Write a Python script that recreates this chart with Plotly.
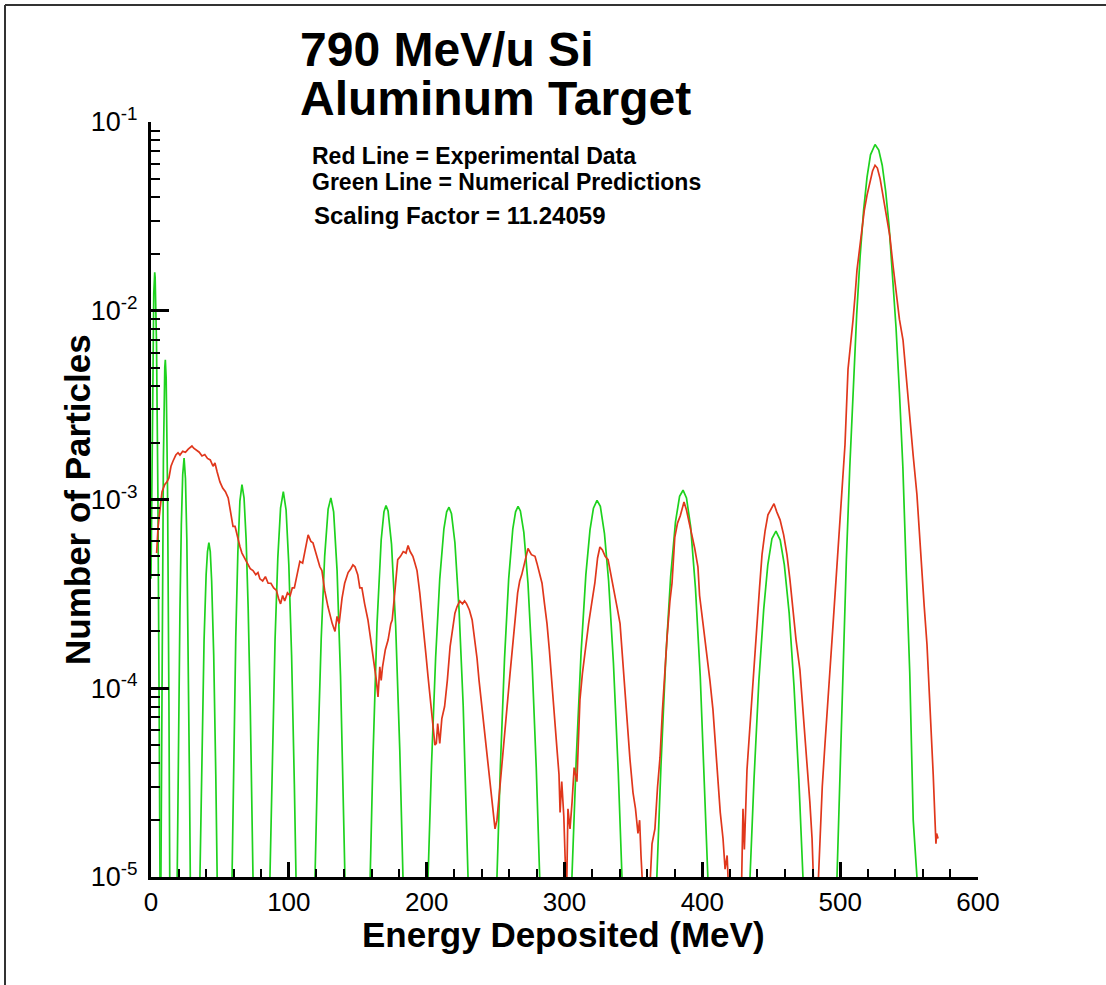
import plotly.graph_objects as go

# ---------------- data ----------------
# Green line = numerical predictions (one peak per fragment charge, None = gap below 1e-5)
green_energy = [
    0, 1, 2, 2.7, 3, 4, 5, 6, 6.5, None,
    7.2, 8, 9, 10, 10.4, 11, 12, 13, 13.6, None,
    19, 20, 21, 22, 23, 24, 25, 26, 27, 28, 28.5, None,
    35.5, 37, 38.5, 40, 41, 42, 43, 44, 45.5, 47, 48, None,
    58.8, 60, 61.5, 63, 64.5, 66, 67.5, 69, 70.5, 72, 73, 74, None,
    86.3, 88, 90, 92, 94, 96, 98, 100, 102, 104, 105.2, None,
    119, 121, 123.5, 126, 128.5, 130.5, 132.5, 135, 137.5, 139.5, 140.7, None,
    159, 161, 164, 167, 169, 170.5, 172, 174.5, 177.5, 180.5, 182.8, None,
    201, 203.5, 206.5, 209.5, 212.5, 214.5, 216.2, 218, 220.5, 223.5, 226.5, 228.5, 230, None,
    251, 253.5, 256.5, 259.5, 262.5, 264.5, 266.3, 268, 270.5, 273.5, 276.5, 279.5, 282, None,
    305.4, 308.5, 312, 315.5, 318.5, 321, 323.6, 326, 329, 332, 335.5, 339, 341.7, None,
    367, 370, 373.5, 377, 380.5, 383.5, 386, 388.5, 391.5, 395, 398.5, 401.5, 404, None,
    434.6, 437.5, 441, 444.5, 447.5, 450.5, 453.4, 456.5, 459.5, 463, 466.5, 470, 473, None,
    497.7, 500, 502, 504.5, 507, 509.5, 512, 514.5, 517, 519.5, 522, 525.3, 528, 530.5,
    533, 535.5, 538, 540.5, 543, 545.5, 548, 550.5, 553, 555.7,
]
green_counts = [
    3.8e-4, 3.6e-3, 1.23e-2, 1.6e-2, 1.5e-2, 6.7e-3, 1.07e-3, 6.2e-5, 1e-5, None,
    1e-5, 1.6e-4, 1.64e-3, 5.0e-3, 5.5e-3, 4.4e-3, 1.13e-3, 8.6e-5, 1e-5, None,
    1e-5, 6.3e-5, 2.6e-4, 7.3e-4, 1.35e-3, 1.66e-3, 1.29e-3, 6.1e-4, 1.7e-4, 2.9e-5, 1e-5, None,
    1e-5, 5.3e-5, 1.8e-4, 4.0e-4, 5.3e-4, 5.9e-4, 5.3e-4, 3.7e-4, 1.5e-4, 3.5e-5, 1e-5, None,
    1e-5, 4.3e-5, 1.86e-4, 5.2e-4, 9.8e-4, 1.2e-3, 1.02e-3, 6.2e-4, 2.65e-4, 8.1e-5, 3.1e-5, 1e-5, None,
    1e-5, 4.5e-5, 1.8e-4, 4.9e-4, 9.0e-4, 1.1e-3, 8.8e-4, 4.5e-4, 1.5e-4, 3.1e-5, 1e-5, None,
    1e-5, 4.4e-5, 1.84e-4, 5.0e-4, 8.9e-4, 1.02e-3, 8.6e-4, 4.2e-4, 1.16e-4, 2.8e-5, 1e-5, None,
    1e-5, 4.2e-5, 2.2e-4, 6.1e-4, 8.6e-4, 9.3e-4, 8.7e-4, 5.8e-4, 2.15e-4, 4.7e-5, 1e-5, None,
    1e-5, 3.9e-5, 1.45e-4, 3.8e-4, 7.0e-4, 8.6e-4, 9.1e-4, 8.4e-4, 5.9e-4, 2.6e-4, 8.1e-5, 2.5e-5, 1e-5, None,
    1e-5, 3.9e-5, 1.44e-4, 3.8e-4, 7.0e-4, 8.6e-4, 9.2e-4, 8.7e-4, 6.7e-4, 3.6e-4, 1.36e-4, 3.8e-5, 1e-5, None,
    1e-5, 4.2e-5, 1.53e-4, 4.0e-4, 6.9e-4, 9.0e-4, 9.9e-4, 9.2e-4, 6.6e-4, 3.7e-4, 1.36e-4, 3.6e-5, 1e-5, None,
    1e-5, 3.9e-5, 1.46e-4, 3.9e-4, 7.6e-4, 1.04e-3, 1.12e-3, 1.02e-3, 7.2e-4, 3.4e-4, 1.15e-4, 3.4e-5, 1e-5, None,
    1e-5, 3.3e-5, 1.09e-4, 2.6e-4, 4.5e-4, 6.2e-4, 6.8e-4, 6.1e-4, 4.5e-4, 2.5e-4, 1.03e-4, 3.3e-5, 1e-5, None,
    1e-5, 3.7e-5, 1.5e-4, 4.8e-4, 1.5e-3, 4.1e-3, 9.6e-3, 1.95e-2, 3.4e-2, 5.1e-2, 6.7e-2, 7.6e-2, 7.1e-2, 5.9e-2,
    4.3e-2, 2.8e-2, 1.6e-2, 8.2e-3, 3.7e-3, 1.48e-3, 4.0e-4, 1.2e-4, 2.0e-5, 1e-5,
]

# Red line = experimental data
red_energy = [
    4.1, 5.1, 7, 8, 10, 11.6, 13, 14.5, 16, 18, 19.6, 21, 23, 25, 27, 29.7, 31, 33, 35, 37,
    39, 41, 43, 45, 46.4, 48, 50, 52, 54, 56, 58, 59.5, 61, 63, 64.6, 66, 68, 70, 72, 74,
    76, 77.6, 79, 81, 83, 85, 87, 89, 91, 92.5, 94, 95.5, 97, 99, 101, 102.5, 104, 106, 108, 110,
    112, 114, 116, 117.5, 119, 121, 122.5, 124, 126, 128.4, 130, 131.5, 133.5, 135, 136.5, 138.6, 140.5, 143, 145, 146.5,
    148, 150, 151.5, 153, 155, 157.4, 159, 160.5, 162.5, 163.5, 164.7, 166, 167, 168, 170, 172, 174, 175, 177, 179,
    181, 183, 185, 186.5, 188, 190, 191.5, 193, 195, 196.6, 198, 199.5, 201, 202.5, 204, 205, 206, 207, 208, 209.5,
    211, 213, 215, 217, 219, 220.5, 222, 224, 226, 227.5, 229, 231, 233, 235, 236.5, 238, 240, 242, 243.8, 245.5,
    247.4, 249.6, 251, 253, 255, 256.8, 258, 260.5, 262, 264, 266, 267.5, 269, 271, 273.5, 276, 278.6, 280, 282, 283.7,
    285.5, 287.3, 289, 291, 293, 294.6, 296, 296.8, 298, 299.5, 300.4, 301.5, 302.5, 304, 305.5, 307, 309, 310, 311.2, 313,
    315, 317.5, 320, 322, 324, 325.7, 327.5, 329.5, 331.6, 333.5, 335.2, 337, 338.5, 340.3, 342, 343.5, 345.3, 347.5, 349.7, 351.5,
    353.3, 354.5, 355.5, 357, 360, 362, 363.5, 365.6, 367.5, 369.3, 371, 373, 374.5, 376.5, 378, 380, 382, 384, 386.7, 388.5,
    390.5, 392.5, 394.5, 396.8, 398, 400.5, 403, 405.5, 407.7, 409.5, 411.4, 413, 415, 416.5, 418, 419.5, 422, 425, 428, 429.5,
    430.5, 432.4, 434, 436, 438, 439.7, 441.5, 443.3, 445.5, 447.6, 450, 452, 454, 456.4, 459, 461.4, 463.5, 465.8, 468, 470.8,
    473.5, 476, 478, 479.6, 481, 483, 485.4, 487, 489, 491, 492.6, 494.5, 496.2, 498, 500, 501.8, 503.5, 505.7, 507.5, 509.3,
    510.8, 512.2, 514, 515.8, 517.5, 519.5, 521.5, 523.5, 525.3, 527, 529, 531, 533.5, 536, 538.5, 541, 543, 545.6, 548, 550.7,
    553, 555.7, 557.5, 559.4, 561, 563, 565, 566.6, 567.5, 568.8, 569.5, 570, 571,
]
red_counts = [
    5.2e-4, 7.1e-4, 9.5e-4, 1.1e-3, 1.2e-3, 1.24e-3, 1.3e-3, 1.5e-3, 1.6e-3, 1.72e-3, 1.77e-3, 1.72e-3, 1.8e-3, 1.78e-3, 1.85e-3, 1.92e-3, 1.87e-3, 1.82e-3, 1.78e-3, 1.7e-3,
    1.73e-3, 1.65e-3, 1.62e-3, 1.5e-3, 1.56e-3, 1.4e-3, 1.24e-3, 1.15e-3, 1.1e-3, 1.02e-3, 8.5e-4, 7.2e-4, 7.2e-4, 6.2e-4, 5.6e-4, 5.2e-4, 4.9e-4, 4.6e-4, 4.3e-4, 4.2e-4,
    4.0e-4, 4.1e-4, 3.8e-4, 3.7e-4, 3.9e-4, 3.6e-4, 3.6e-4, 3.4e-4, 3.3e-4, 3.0e-4, 2.8e-4, 3.1e-4, 2.9e-4, 3.2e-4, 3.1e-4, 3.4e-4, 3.4e-4, 4.0e-4, 4.7e-4, 4.6e-4,
    5.6e-4, 6.5e-4, 6.0e-4, 5.9e-4, 5.4e-4, 4.8e-4, 4.4e-4, 4.2e-4, 3.3e-4, 2.7e-4, 2.4e-4, 2.2e-4, 2.0e-4, 2.4e-4, 2.2e-4, 3.0e-4, 3.6e-4, 4.1e-4, 4.3e-4, 4.5e-4,
    4.4e-4, 4.0e-4, 3.4e-4, 3.4e-4, 2.8e-4, 2.3e-4, 1.9e-4, 1.6e-4, 1.3e-4, 1.1e-4, 9.0e-5, 1.3e-4, 1.1e-4, 1.3e-4, 1.6e-4, 1.8e-4, 2.2e-4, 2.3e-4, 3.3e-4, 4.8e-4,
    5.0e-4, 5.3e-4, 5.2e-4, 5.7e-4, 5.3e-4, 5.0e-4, 4.6e-4, 4.2e-4, 3.2e-4, 2.5e-4, 1.9e-4, 1.5e-4, 1.15e-4, 9.0e-5, 7.0e-5, 6.0e-5, 5.0e-5, 5.1e-5, 6.5e-5, 5.1e-5,
    6.9e-5, 8.0e-5, 1.1e-4, 1.66e-4, 2.1e-4, 2.5e-4, 2.7e-4, 2.9e-4, 2.8e-4, 2.9e-4, 2.8e-4, 2.6e-4, 2.3e-4, 1.8e-4, 1.45e-4, 1.1e-4, 8.0e-5, 5.8e-5, 4.3e-5, 3.3e-5,
    2.5e-5, 1.8e-5, 2.0e-5, 3.0e-5, 4.2e-5, 6.0e-5, 7.5e-5, 1.2e-4, 1.6e-4, 2.3e-4, 3.2e-4, 3.7e-4, 4.0e-4, 4.6e-4, 5.5e-4, 5.1e-4, 5.0e-4, 4.6e-4, 4.0e-4, 3.6e-4,
    2.8e-4, 2.2e-4, 1.6e-4, 1.07e-4, 6.5e-5, 4.7e-5, 3.5e-5, 2.2e-5, 3.2e-5, 2.1e-5, 1.3e-5, 8.0e-6, 2.3e-5, 1.8e-5, 2.5e-5, 3.8e-5, 3.2e-5, 5.0e-5, 8.7e-5, 1.2e-4,
    1.6e-4, 2.2e-4, 2.9e-4, 3.6e-4, 4.9e-4, 5.6e-4, 5.4e-4, 5.0e-4, 4.8e-4, 4.0e-4, 3.4e-4, 3.0e-4, 2.6e-4, 2.2e-4, 1.5e-4, 1.0e-4, 7.0e-5, 4.2e-5, 2.8e-5, 2.3e-5,
    1.7e-5, 2.0e-5, 1.3e-5, 8.0e-6, 6.0e-6, 9.0e-6, 1.5e-5, 1.8e-5, 3.0e-5, 4.3e-5, 7.5e-5, 1.36e-4, 1.9e-4, 2.9e-4, 3.6e-4, 6.3e-4, 7.5e-4, 8.2e-4, 9.7e-4, 8.8e-4,
    7.5e-4, 6.5e-4, 5.5e-4, 4.4e-4, 3.1e-4, 2.2e-4, 1.6e-4, 1.1e-4, 7.7e-5, 5.0e-5, 3.1e-5, 2.2e-5, 1.6e-5, 1.1e-5, 1.3e-5, 7.0e-6, 5.0e-6, 5.0e-6, 6.0e-6, 2.3e-5,
    1.4e-5, 3.7e-5, 5.5e-5, 9.2e-5, 1.5e-4, 2.3e-4, 3.4e-4, 5.1e-4, 6.8e-4, 8.3e-4, 9.0e-4, 9.5e-4, 8.6e-4, 7.8e-4, 6.5e-4, 5.1e-4, 3.8e-4, 2.6e-4, 1.8e-4, 1.25e-4,
    7.0e-5, 4.2e-5, 2.5e-5, 1.6e-5, 8.0e-6, 6.0e-6, 1.6e-5, 3.0e-5, 5.1e-5, 8.0e-5, 1.25e-4, 2.0e-4, 3.1e-4, 5.0e-4, 7.8e-4, 1.2e-3, 1.95e-3, 4.9e-3, 6.5e-3, 8.9e-3,
    1.2e-2, 1.64e-2, 2.1e-2, 2.8e-2, 3.4e-2, 4.1e-2, 4.8e-2, 5.5e-2, 5.9e-2, 5.7e-2, 5.0e-2, 4.1e-2, 3.3e-2, 2.5e-2, 1.7e-2, 1.2e-2, 9.0e-3, 7.0e-3, 4.3e-3, 2.6e-3,
    1.7e-3, 1.06e-3, 6.5e-4, 4.2e-4, 2.7e-4, 1.7e-4, 9.0e-5, 5.0e-5, 3.5e-5, 2.0e-5, 1.5e-5, 1.7e-5, 1.6e-5,
]

x_ticks = [0, 100, 200, 300, 400, 500, 600]
y_ticks = [1e-5, 1e-4, 1e-3, 1e-2, 1e-1]
y_ticktext = ["10<sup>-5</sup>", "10<sup>-4</sup>", "10<sup>-3</sup>", "10<sup>-2</sup>", "10<sup>-1</sup>"]
y_minor = [m * d for d in [1e-5, 1e-4, 1e-3, 1e-2] for m in range(2, 10)]

title_lines = ["790 MeV/u Si", "Aluminum Target"]
note_lines = ["Red Line = Experimental Data", "Green Line = Numerical Predictions", "Scaling Factor = 11.24059"]

# ---------------- layout geometry (pixels) ----------------
W, H = 1106, 985
L, R, T, B = 151, 128, 122, 108
PW, PH = W - L - R, H - T - B


def px(xp):
    return (xp - L) / PW


def py(yp):
    return (H - B - yp) / PH


FONT = "Liberation Sans, Arial, sans-serif"

fig = go.Figure()
fig.add_trace(go.Scatter(x=green_energy, y=green_counts, mode="lines",
                         line=dict(color="#1ed21e", width=1.7), connectgaps=False,
                         name="Numerical Predictions"))
fig.add_trace(go.Scatter(x=red_energy, y=red_counts, mode="lines",
                         line=dict(color="#e0371c", width=1.7),
                         name="Experimental Data"))

fig.update_xaxes(range=[0, 600], tickvals=x_ticks, ticks="inside", ticklen=15, tickwidth=3,
                 tickcolor="black", showline=True, linewidth=3, linecolor="black",
                 showgrid=False, zeroline=False,
                 tickfont=dict(family=FONT, size=26, color="black"),
                 minor=dict(ticks="inside", dtick=20, ticklen=8, tickwidth=2, tickcolor="black", showgrid=False))
fig.update_yaxes(type="log", range=[-5, -1], tickvals=y_ticks, ticktext=y_ticktext,
                 ticks="inside", ticklen=18, tickwidth=3, tickcolor="black",
                 showline=True, linewidth=3, linecolor="black", showgrid=False, zeroline=False,
                 ticklabelstandoff=5,
                 tickfont=dict(family=FONT, size=27, color="black"),
                 minor=dict(ticks="inside", tickvals=y_minor, ticklen=9, tickwidth=2, tickcolor="black", showgrid=False))

ann = []
ann.append(dict(text="<b>%s</b>" % title_lines[0], x=px(298), y=py(49), xanchor="left", yanchor="middle"))
ann.append(dict(text="<b>%s</b>" % title_lines[1], x=px(298), y=py(99), xanchor="left", yanchor="middle"))
for a in ann:
    a.update(xref="paper", yref="paper", showarrow=False, font=dict(family=FONT, size=48, color="black"))
notes_y = [156, 182, 215]
notes_x = [310, 310, 312]
notes_size = [23, 23, 24]
for t, xx, yy, ss in zip(note_lines, notes_x, notes_y, notes_size):
    ann.append(dict(text="<b>%s</b>" % t, x=px(xx), y=py(yy), xref="paper", yref="paper",
                    xanchor="left", yanchor="middle", showarrow=False,
                    font=dict(family=FONT, size=ss, color="black")))
ann.append(dict(text="<b>Energy Deposited (MeV)</b>", x=px(563), y=py(934), xref="paper", yref="paper",
                xanchor="center", yanchor="middle", showarrow=False,
                font=dict(family=FONT, size=35, color="black")))
ann.append(dict(text="<b>Number of Particles</b>", x=px(77), y=py(500), xref="paper", yref="paper",
                xanchor="center", yanchor="middle", showarrow=False, textangle=-90,
                font=dict(family=FONT, size=35, color="black")))

shapes = [
    dict(type="line", xref="paper", yref="paper", x0=px(5), x1=px(5), y0=py(5), y1=py(H + 10),
         line=dict(color="#333333", width=2)),
    dict(type="line", xref="paper", yref="paper", x0=px(5), x1=px(W + 10), y0=py(5), y1=py(5),
         line=dict(color="#333333", width=2)),
]

fig.update_layout(width=W, height=H, margin=dict(l=L, r=R, t=T, b=B),
                  paper_bgcolor="white", plot_bgcolor="white", showlegend=False,
                  annotations=ann, shapes=shapes)

fig.write_html("out.html")
